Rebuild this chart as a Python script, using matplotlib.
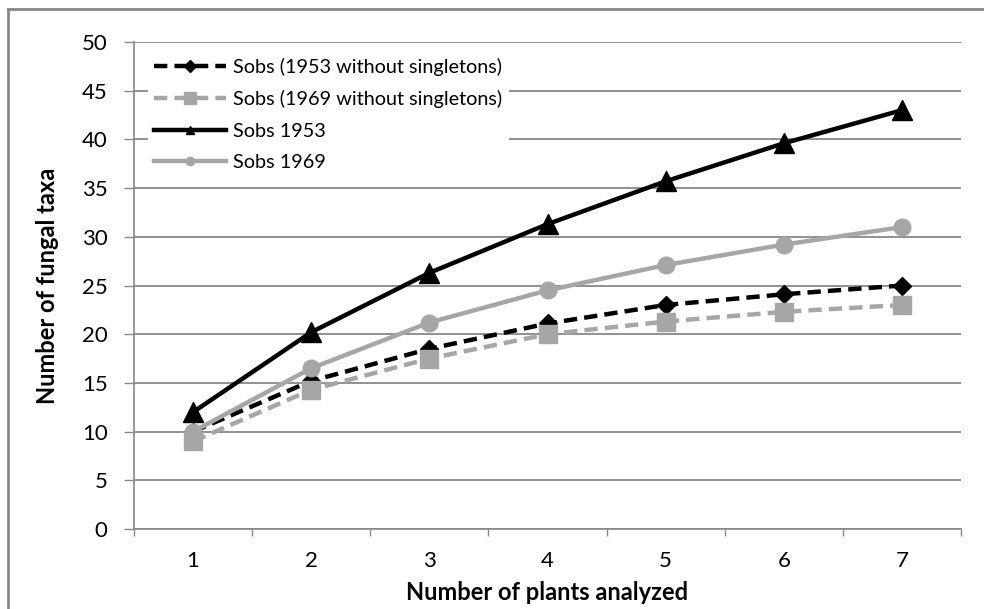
import matplotlib
matplotlib.use("Agg")
import matplotlib.pyplot as plt
from matplotlib.lines import Line2D

plants = [1, 2, 3, 4, 5, 6, 7]
sobs_1953_nosingle = [10, 15.2, 18.5, 21.1, 23.0, 24.1, 25.0]
sobs_1969_nosingle = [9, 14.3, 17.5, 20.0, 21.3, 22.3, 23.0]
sobs_1953 = [12, 20.2, 26.3, 31.3, 35.7, 39.6, 43.0]
sobs_1969 = [10, 16.5, 21.2, 24.5, 27.1, 29.2, 31.0]
labels = ["Sobs (1953 without singletons)", "Sobs (1969 without singletons)",
          "Sobs 1953", "Sobs 1969"]

plt.rcParams['font.family'] = ['Lato', 'DejaVu Sans']

GREY = '#a6a6a6'
GRID = '#888888'

fig = plt.figure(figsize=(9.84, 6.09), dpi=100)
fig.patch.set_facecolor('white')
ax = fig.add_axes([134/984, 1 - 529/609, (961 - 134)/984, (529 - 42)/609])

# outer chart frame (top and left edges)
fig.add_artist(Line2D([8/984, 8/984], [0, 1 - 9/609], transform=fig.transFigure,
                      color=GRID, lw=2))
fig.add_artist(Line2D([8/984, 1], [1 - 9/609, 1 - 9/609], transform=fig.transFigure,
                      color=GRID, lw=2))

dash = (0, (3, 1.6))
ax.plot(plants, sobs_1953_nosingle, color='black', lw=3.2, ls=dash,
        marker='D', ms=9, zorder=3)
ax.plot(plants, sobs_1969_nosingle, color=GREY, lw=3.2, ls=dash,
        marker='s', ms=13, zorder=4)
ax.plot(plants, sobs_1953, color='black', lw=3.2, marker='^', ms=15, zorder=5)
ax.plot(plants, sobs_1969, color=GREY, lw=3.2, marker='o', ms=12, zorder=6)

ax.set_xlim(0.5, 7.5)
ax.set_ylim(0, 50)
ax.set_yticks(range(0, 51, 5))
ax.set_xticks(plants)
ax.set_xticks([x + 0.5 for x in range(0, 8)], minor=True)
ax.tick_params(axis='x', which='major', length=0, pad=16, labelsize=16)
ax.tick_params(axis='x', which='minor', length=5, color=GRID, width=1)
ax.tick_params(axis='y', length=7, color=GRID, width=1, pad=12, labelsize=16)
ax.yaxis.grid(True, color=GRID, lw=1.3)
ax.set_axisbelow(True)
for s in ['top', 'right']:
    ax.spines[s].set_visible(False)
for s in ['left', 'bottom']:
    ax.spines[s].set_color(GRID)
    ax.spines[s].set_linewidth(1.2)

ax.set_xlabel("Number of plants analyzed", fontsize=17, fontweight='bold')
ax.set_ylabel("Number of fungal taxa", fontsize=17, fontweight='bold')
ax.xaxis.set_label_coords(0.5, -(592 - 529) / 487, transform=ax.transAxes)
ax.xaxis.label.set_va('center')
ax.yaxis.set_label_coords(-(134 - 48) / 827, 0.5, transform=ax.transAxes)
ax.yaxis.label.set_va('center')

handles = [
    Line2D([], [], color='black', lw=3.2, ls=dash, marker='D', ms=6),
    Line2D([], [], color=GREY, lw=3.2, ls=dash, marker='s', ms=9),
    Line2D([], [], color='black', lw=3.2, marker='^', ms=6),
    Line2D([], [], color=GREY, lw=3.2, marker='o', ms=6),
]
leg = ax.legend(handles, labels, loc='upper left', bbox_to_anchor=(0.005, 1.0),
                frameon=True, fontsize=14.3, handlelength=3.6, handletextpad=0.4,
                labelspacing=0.72, borderpad=0.3, fancybox=False)
leg.get_frame().set_edgecolor('none')
leg.get_frame().set_facecolor('white')
leg.get_frame().set_alpha(1)

fig.savefig("out.png", dpi=100, facecolor='white')
